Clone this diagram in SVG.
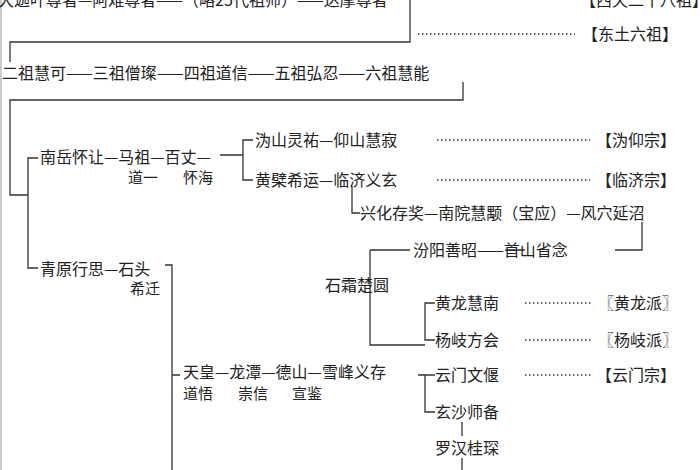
<svg xmlns="http://www.w3.org/2000/svg" width="700" height="470" viewBox="0 0 700 470">
<style>
text{font-family:"Noto Sans CJK SC","Noto Sans",sans-serif;font-size:16px;fill:#222}
.s{font-size:15px}
.l{stroke:#333;stroke-width:1.3;fill:none}
.d{stroke:#333;stroke-width:1.5;stroke-dasharray:1.5 2.5;fill:none}
</style>
<rect width="700" height="470" fill="#fff"/>
<line x1="1" y1="0" x2="1" y2="470" stroke="#999"/>
<g id="connectors">
<path class="l" d="M410 0V42H10V62"/>
<path class="d" d="M418 34H575"/>
<path class="l" d="M463 82V100H10V195H28M38 158H28V268H38"/>
<path class="l" d="M220 155H243M253 140H243V180H253"/>
<path class="d" d="M437 140H590M437 180H590"/>
<path class="l" d="M352 186V213H360"/>
<path class="l" d="M642 222V250H615M505 250H525M370 250H410M370 250V345H425M435 303H425V340H435"/>
<path class="d" d="M525 303H592M525 340H592M525 375H592"/>
<path class="l" d="M165 265H172V470M172 375H180"/>
<path class="l" d="M425 375V412H435M418 375H435"/>
<path class="l" d="M462 422V436M462 458V470"/>
</g>
<g id="row1"><text x="-2" y="6">大迦叶尊者—阿难尊者——（略25代祖师）——达摩尊者</text><text x="580" y="6">【西天二十八祖】</text></g>
<g id="dongtu"><text x="582" y="40">【东土六祖】</text></g>
<g id="row2"><text x="2" y="79">二祖慧可——三祖僧璨——四祖道信——五祖弘忍——六祖慧能</text></g>
<g id="nanyue"><text x="40" y="163">南岳怀让—马祖—百丈—</text><text class="s" x="128" y="183">道一</text><text class="s" x="183" y="183">怀海</text></g>
<g id="weiyang"><text x="255" y="146">沩山灵祐—仰山慧寂</text><text x="596" y="146">【沩仰宗】</text></g>
<g id="linji"><text x="255" y="186">黄檗希运—临济义玄</text><text x="596" y="186">【临济宗】</text></g>
<g id="xinghua"><text x="360" y="219">兴化存奖—南院慧颙（宝应）—风穴延沼</text></g>
<g id="fenyang"><text x="413" y="256">汾阳善昭——首山省念</text></g>
<g id="shishuang"><text x="325" y="291">石霜楚圆</text></g>
<g id="huanglong"><text x="435" y="309">黄龙慧南</text><text x="598" y="309">〖黄龙派〗</text></g>
<g id="yangqi"><text x="435" y="346">杨岐方会</text><text x="598" y="346">〖杨岐派〗</text></g>
<g id="qingyuan"><text x="40" y="275">青原行思—石头</text><text class="s" x="130" y="294">希迁</text></g>
<g id="tianhuang"><text x="183" y="378">天皇—龙潭—德山—雪峰义存</text><text class="s" x="183" y="399">道悟</text><text class="s" x="238" y="399">崇信</text><text class="s" x="292" y="399">宣鉴</text></g>
<g id="yunmen"><text x="435" y="381">云门文偃</text><text x="596" y="381">【云门宗】</text></g>
<g id="xuansha"><text x="435" y="418">玄沙师备</text></g>
<g id="luohan"><text x="435" y="454">罗汉桂琛</text></g>
</svg>
